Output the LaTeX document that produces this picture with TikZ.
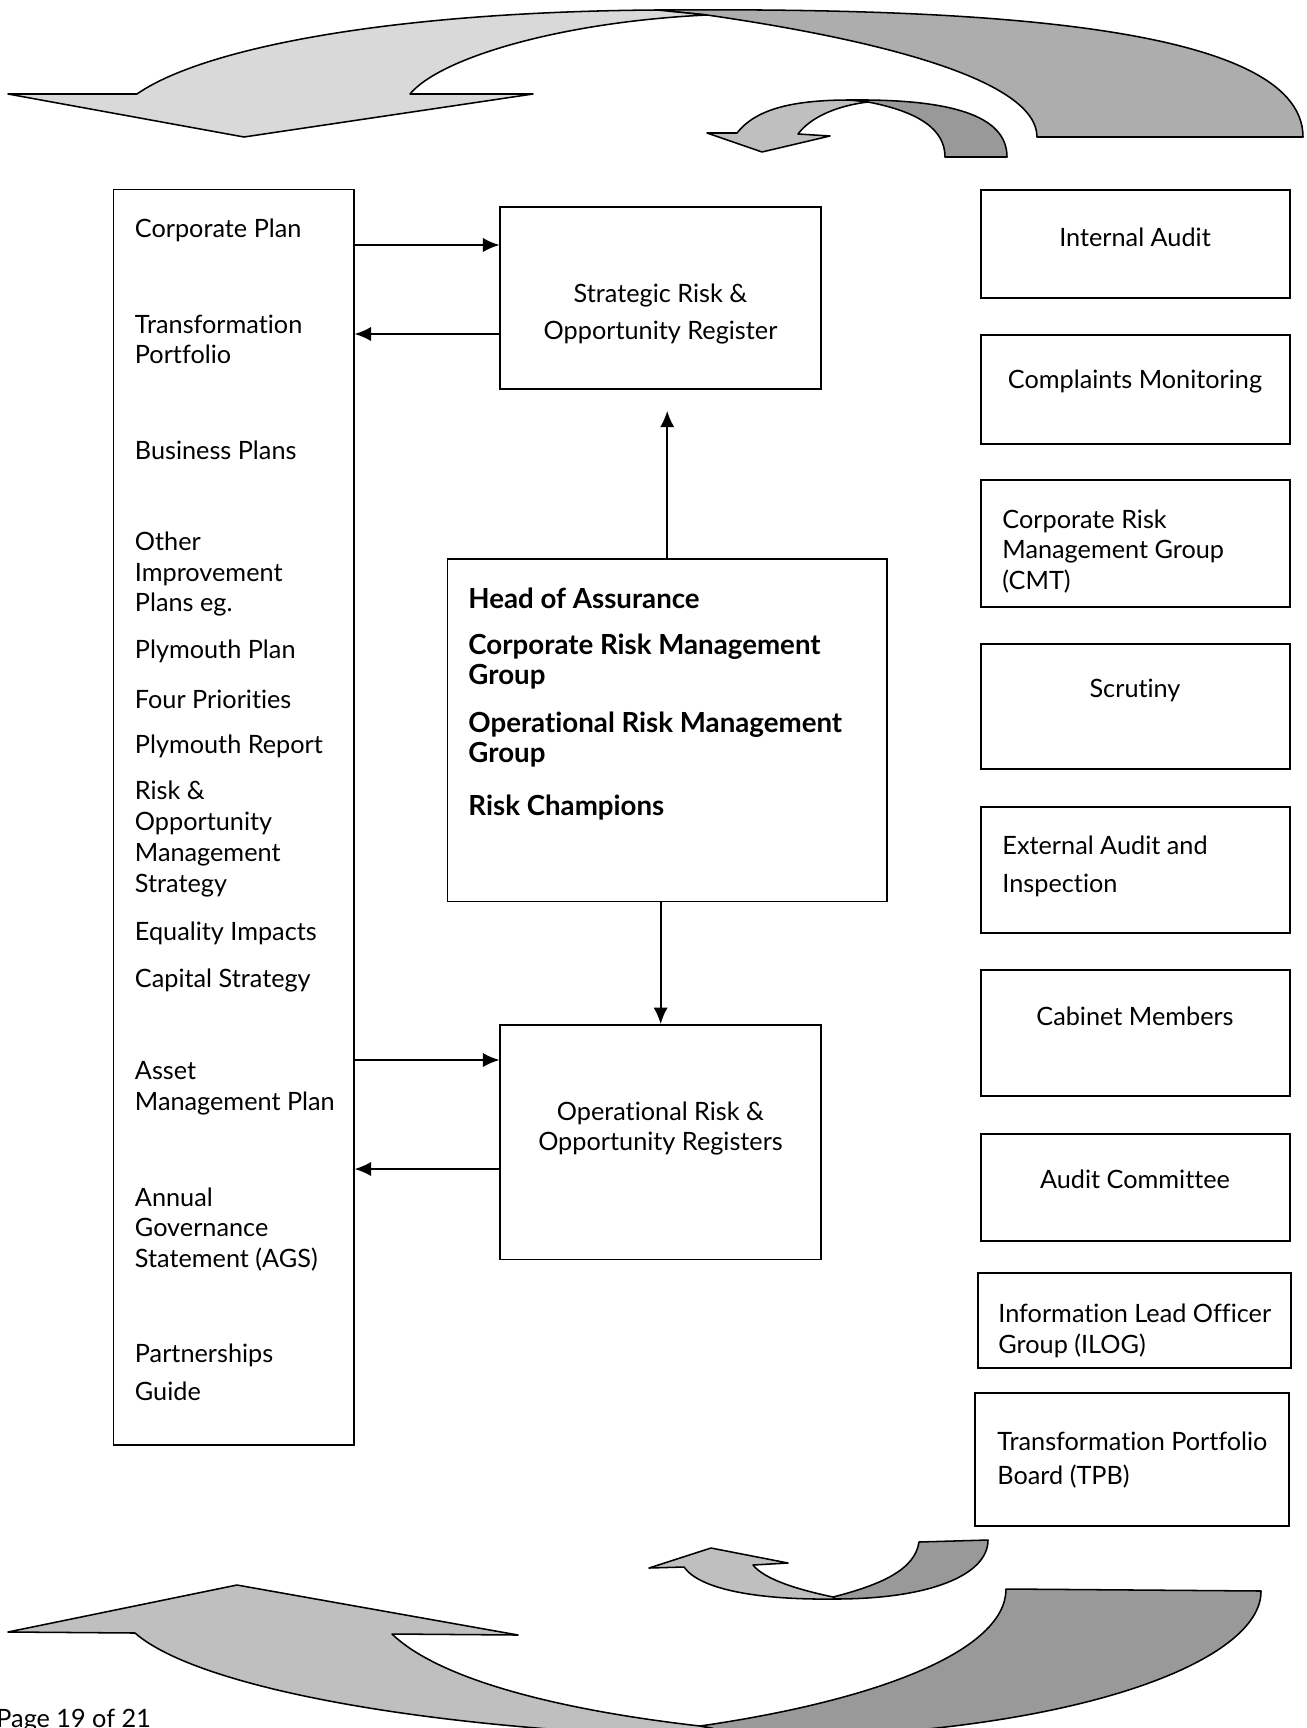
\documentclass[tikz,border=0pt]{standalone}
\usepackage{fontspec}
\setmainfont{Lato}[Ligatures=NoCommon]
\usetikzlibrary{arrows.meta}
\usetikzlibrary{fit}

\definecolor{paleface}{HTML}{D9D9D9}
\definecolor{paleback}{HTML}{ADADAD}
\definecolor{midface}{HTML}{BFBFBF}
\definecolor{midback}{HTML}{999999}

\tikzset{
  box/.style={draw, line width=0.8pt, inner sep=0pt},
  plan/.style={anchor=west, align=left, inner sep=0pt},
  lead/.style={anchor=west, align=left, inner sep=0pt, font=\fontsize{12.6}{14}\bfseries},
  mid/.style={align=center, inner sep=0pt},
  face/.style={draw, line width=0.7pt, line join=round},
}

\begin{document}
\begin{tikzpicture}[x=0.4553pt, y=-0.4553pt, >={Latex[length=7.5pt,width=6.5pt]},
  font=\fontsize{11.5}{14}\selectfont]
\useasboundingbox (0,0) rectangle (1307,1728);

% top arrows
\draw[face, fill=paleback] (657,10) .. controls (950,8) and (1303,20) .. (1303,137)
  -- (1037,137) .. controls (1037,80) and (880,40) .. (707,15) -- cycle;
\draw[face, fill=paleface] (8,94) -- (137,94) .. controls (200,50) and (380,12) .. (657,10)
  -- (707,15) .. controls (560,22) and (440,58) .. (410,94) -- (533,94) -- (244,137) -- cycle;
\draw[face, fill=midback] (850,100) .. controls (950,99) and (1007,115) .. (1007,157)
  -- (945,157) .. controls (945,130) and (920,112) .. (868,102) -- cycle;
\draw[face, fill=midface] (707,133) -- (737,133) .. controls (755,110) and (790,100) .. (850,100)
  -- (868,102) .. controls (835,106) and (810,118) .. (798,134) -- (830,136) -- (762,152) -- cycle;

% bottom arrows
\draw[face, fill=midback] (1006,1589) -- (1261,1591) .. controls (1262,1660) and (1080,1735) .. (760,1738)
  -- (700,1726) .. controls (880,1700) and (1006,1650) .. (1006,1589) -- cycle;
\draw[face, fill=midface] (8,1632) -- (135,1633) .. controls (200,1690) and (450,1735) .. (760,1738)
  -- (700,1726) .. controls (560,1710) and (440,1680) .. (392,1634) -- (518,1635) -- (237,1585) -- cycle;
\draw[face, fill=midback] (919,1542) -- (988,1540) .. controls (988,1575) and (930,1599) .. (835,1599)
  -- (833,1597) .. controls (880,1585) and (915,1570) .. (919,1542) -- cycle;
\draw[face, fill=midface] (649,1568) -- (684,1567) .. controls (700,1590) and (760,1600) .. (835,1599)
  -- (833,1597) .. controls (800,1590) and (765,1580) .. (753,1565) -- (788,1563) -- (711,1548) -- cycle;

% boxes
\node[box, fit={(113.5,189.6) (353.7,1444.7)}] (plans) {};
\node[box, fit={(500.3,207.2) (821,389)}] (strat) {};
\node[box, fit={(447.4,558.7) (887,901.4)}] (heads) {};
\node[box, fit={(500.3,1024.9) (821,1259.6)}] (oper) {};

\node[box, fit={(981,190) (1290,298)}] (audit) {};
\node[box, fit={(981,335) (1290,444)}] (complaints) {};
\node[box, fit={(981,480) (1290,607)}] (crmg) {};
\node[box, fit={(981,644) (1290,769)}] (scrutiny) {};
\node[box, fit={(981,807) (1290,933)}] (external) {};
\node[box, fit={(981,970) (1290,1096)}] (cabinet) {};
\node[box, fit={(981,1134) (1290,1241)}] (committee) {};
\node[box, fit={(978,1273) (1291,1368)}] (ilog) {};
\node[box, fit={(975,1393) (1289,1526)}] (tpb) {};

% left column
\node[plan] (cp) at (134.5,230) {Corporate Plan};
\node[plan] (tp) at (134.5,339.5) {Transformation\\Portfolio};
\node[plan] (bp) at (134.5,450) {Business Plans};
\node[plan] (oip) at (134.5,574) {Other\\Improvement\\Plans eg.};
\node[plan] (pp) at (134.5,651) {Plymouth Plan};
\node[plan] (fp) at (134.5,699) {Four Priorities};
\node[plan] (pr) at (134.5,746) {Plymouth Report};
\node[plan] (rom) at (134.5,839) {Risk \&\\Opportunity\\Management\\Strategy};
\node[plan] (eqi) at (134.5,933) {Equality Impacts};
\node[plan] (cs) at (134.5,980) {Capital Strategy};
\node[plan] (amp) at (134.5,1088.5) {Asset\\Management Plan};
\node[plan] (ags) at (134.5,1229.5) {Annual\\Governance\\Statement (AGS)};
\node[plan] (pg) at (134.5,1372) {Partnerships\\[3.3pt]Guide};

% centre
\node[mid] (stext) at (660.5,314) {Strategic Risk \&\\[2.4pt]Opportunity Register};
\node[lead] (hoa) at (468,598) {Head of Assurance};
\node[lead] (crm) at (468,661.5) {Corporate Risk Management\\Group};
\node[lead] (orm) at (468,739.5) {Operational Risk Management\\Group};
\node[lead] (rc) at (468,808) {Risk Champions};
\node[mid] (otext) at (660.5,1128.5) {Operational Risk \&\\Opportunity Registers};

% right column
\node[mid] at (1135,237) {Internal Audit};
\node[mid] at (1135,381) {Complaints Monitoring};
\node[plan] at (1002,551.5) {Corporate Risk\\Management Group\\(CMT)};
\node[mid] at (1135,690) {Scrutiny};
\node[plan] at (1002,866) {External Audit and\\[3.3pt]Inspection};
\node[mid] at (1135,1016) {Cabinet Members};
\node[mid] at (1135,1179) {Audit Committee};
\node[plan] at (998,1331) {Information Lead Officer\\Group (ILOG)};
\node[plan] at (997,1460) {Transformation Portfolio\\[1.5pt]Board (TPB)};

\node[plan] (page) at (-4,1721) {Page 19 of 21};

% connectors
\draw[->, line width=0.8pt] (plans.east |- 0,245) -- (strat.west |- 0,245);
\draw[->, line width=0.8pt] (strat.west |- 0,334) -- (plans.east |- 0,334);
\draw[->, line width=0.8pt, shorten >=9.5pt] (heads.north) -- (heads.north |- strat.south);
\draw[->, line width=0.8pt] (heads.south -| oper.north) -- (oper.north);
\draw[->, line width=0.8pt] (plans.east |- 0,1060) -- (oper.west |- 0,1060);
\draw[->, line width=0.8pt] (oper.west |- 0,1169) -- (plans.east |- 0,1169);
\end{tikzpicture}
\end{document}
